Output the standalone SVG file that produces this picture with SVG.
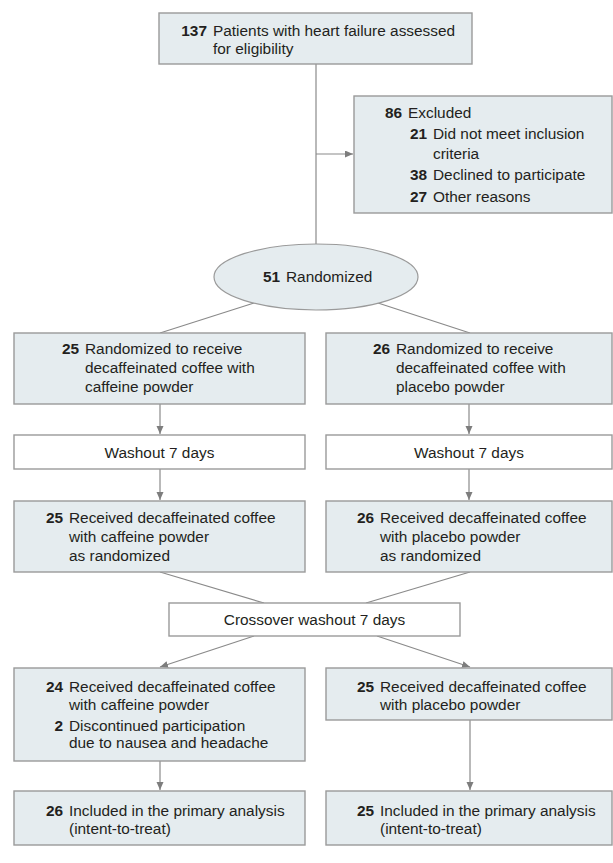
<svg xmlns="http://www.w3.org/2000/svg" width="613" height="863" viewBox="0 0 613 863">
<defs>
<marker id="ah" markerWidth="9" markerHeight="8" refX="8" refY="3.5" orient="auto" markerUnits="userSpaceOnUse">
<path d="M0,0 L8,3.5 L0,7 z" fill="#7d7d7d"/>
</marker>
<style>
.box{fill:#e5ecef;stroke:#9a9a9a;stroke-width:1.4}
.wbox{fill:#ffffff;stroke:#9a9a9a;stroke-width:1.4}
text{font-family:"Liberation Sans",Arial,sans-serif;font-size:15.4px;fill:#231f20}
.n{font-weight:bold;text-anchor:end}
.c{text-anchor:middle}
.ln{stroke:#8a8a8a;stroke-width:1.2;fill:none}
.ar{stroke:#8a8a8a;stroke-width:1.2;fill:none;marker-end:url(#ah)}
</style>
</defs>
<rect width="613" height="863" fill="#ffffff"/>
<g id="connectors">
<line class="ln" x1="316" y1="64" x2="316" y2="244"/>
<line class="ar" x1="316" y1="154" x2="353" y2="154"/>
<line class="ln" x1="254" y1="303" x2="160" y2="333"/>
<line class="ln" x1="378" y1="303" x2="470" y2="333"/>
<line class="ar" x1="160" y1="404" x2="160" y2="434"/>
<line class="ar" x1="469" y1="404" x2="469" y2="434"/>
<line class="ar" x1="160" y1="469" x2="160" y2="500"/>
<line class="ar" x1="469" y1="469" x2="469" y2="500"/>
<line class="ln" x1="160" y1="572" x2="264" y2="603"/>
<line class="ln" x1="470" y1="572" x2="366" y2="603"/>
<line class="ar" x1="254" y1="636" x2="160" y2="667"/>
<line class="ar" x1="377" y1="636" x2="470" y2="667"/>
<line class="ar" x1="160" y1="761" x2="160" y2="790"/>
<line class="ar" x1="470" y1="720" x2="470" y2="790"/>
</g>
<g id="assessed">
<rect class="box" x="159" y="13" width="313" height="51"/>
<text class="n" x="207" y="36">137</text>
<text x="213" y="36">Patients with heart failure assessed</text>
<text x="213" y="54">for eligibility</text>
</g>
<g id="excluded">
<rect class="box" x="354" y="96" width="258" height="117"/>
<text class="n" x="402" y="118">86</text>
<text x="408" y="118">Excluded</text>
<text class="n" x="427" y="139">21</text>
<text x="433" y="139">Did not meet inclusion</text>
<text x="433" y="158.5">criteria</text>
<text class="n" x="427" y="180">38</text>
<text x="433" y="180">Declined to participate</text>
<text class="n" x="427" y="201.5">27</text>
<text x="433" y="201.5">Other reasons</text>
</g>
<g id="randomized">
<ellipse cx="316" cy="277" rx="102" ry="33" fill="#e5ecef" stroke="#9a9a9a" stroke-width="1.2"/>
<text class="n" x="280" y="282">51</text>
<text x="286" y="282">Randomized</text>
</g>
<g id="rand-caffeine">
<rect class="box" x="14" y="333" width="291" height="71"/>
<text class="n" x="79" y="354">25</text>
<text x="85" y="354">Randomized to receive</text>
<text x="85" y="373">decaffeinated coffee with</text>
<text x="85" y="392">caffeine powder</text>
</g>
<g id="rand-placebo">
<rect class="box" x="326" y="333" width="286" height="71"/>
<text class="n" x="390" y="354">26</text>
<text x="396" y="354">Randomized to receive</text>
<text x="396" y="373">decaffeinated coffee with</text>
<text x="396" y="392">placebo powder</text>
</g>
<g id="washout-left">
<rect class="wbox" x="14" y="435" width="291" height="34"/>
<text class="c" x="159.5" y="457.5">Washout 7 days</text>
</g>
<g id="washout-right">
<rect class="wbox" x="326" y="435" width="286" height="34"/>
<text class="c" x="469" y="457.5">Washout 7 days</text>
</g>
<g id="recv-caffeine">
<rect class="box" x="14" y="501" width="291" height="71"/>
<text class="n" x="63" y="523">25</text>
<text x="69" y="523">Received decaffeinated coffee</text>
<text x="69" y="542">with caffeine powder</text>
<text x="69" y="561">as randomized</text>
</g>
<g id="recv-placebo">
<rect class="box" x="326" y="501" width="286" height="71"/>
<text class="n" x="374" y="523">26</text>
<text x="380" y="523">Received decaffeinated coffee</text>
<text x="380" y="542">with placebo powder</text>
<text x="380" y="561">as randomized</text>
</g>
<g id="crossover">
<rect class="wbox" x="169" y="603" width="291" height="33"/>
<text class="c" x="314.5" y="625">Crossover washout 7 days</text>
</g>
<g id="cross-caffeine">
<rect class="box" x="14" y="668" width="291" height="93"/>
<text class="n" x="63" y="692">24</text>
<text x="69" y="692">Received decaffeinated coffee</text>
<text x="69" y="710">with caffeine powder</text>
<text class="n" x="63" y="731">2</text>
<text x="69" y="731">Discontinued participation</text>
<text x="69" y="748">due to nausea and headache</text>
</g>
<g id="cross-placebo">
<rect class="box" x="326" y="668" width="286" height="52"/>
<text class="n" x="374" y="692">25</text>
<text x="380" y="692">Received decaffeinated coffee</text>
<text x="380" y="710">with placebo powder</text>
</g>
<g id="analysis-left">
<rect class="box" x="14" y="791" width="291" height="54"/>
<text class="n" x="63" y="816">26</text>
<text x="69" y="816">Included in the primary analysis</text>
<text x="69" y="834">(intent-to-treat)</text>
</g>
<g id="analysis-right">
<rect class="box" x="326" y="791" width="286" height="54"/>
<text class="n" x="374" y="816">25</text>
<text x="380" y="816">Included in the primary analysis</text>
<text x="380" y="834">(intent-to-treat)</text>
</g>
</svg>
